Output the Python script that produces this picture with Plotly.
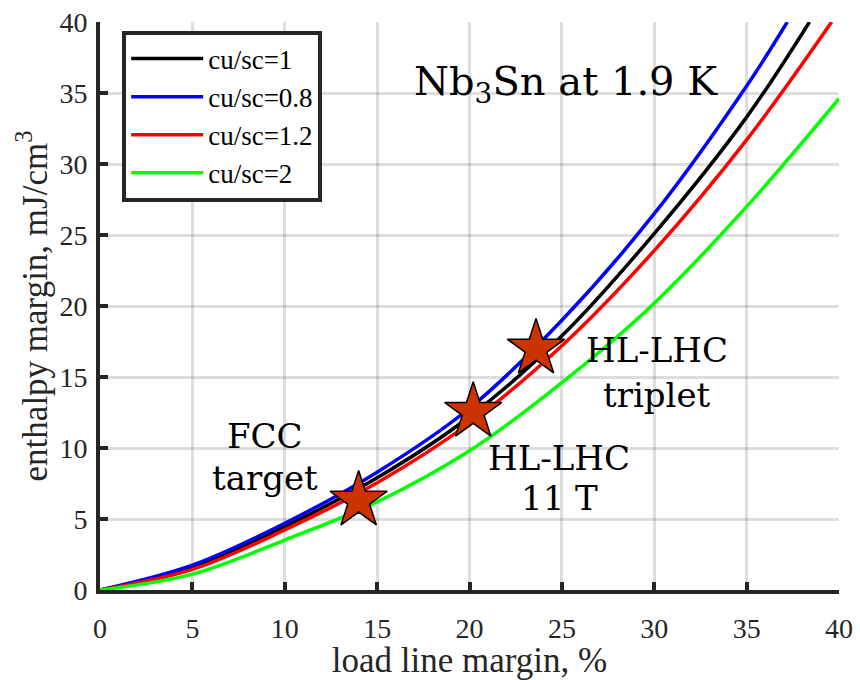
import plotly.graph_objects as go

# load line margin (%) sample points and enthalpy margin (mJ/cm^3) for each cu/sc ratio
x_cu1 = [0, 5, 10, 15, 20, 25, 30, 35, 38.4]
y_cu1 = [0, 1.58, 4.46, 7.9, 12.2, 17.9, 25.1, 33.3, 40]

x_cu08 = [0, 5, 10, 15, 20, 25, 30, 35, 37.2]
y_cu08 = [0, 1.75, 4.7, 8.3, 12.8, 19.0, 26.5, 35.5, 40]

x_cu12 = [0, 5, 10, 15, 20, 25, 30, 35, 39.6]
y_cu12 = [0, 1.45, 4.23, 7.55, 11.75, 17.2, 23.9, 31.7, 40]

x_cu2 = [0, 5, 10, 15, 20, 25, 30, 35, 40]
y_cu2 = [0, 1.12, 3.52, 6.2, 9.8, 14.6, 20.2, 27.0, 34.6]

# magnet operating points
star_x = [14.0, 20.2, 23.6]
star_y = [6.3, 12.55, 17.0]

ticks = [0, 5, 10, 15, 20, 25, 30, 35, 40]

series = [
    ("cu/sc=1", x_cu1, y_cu1, "#000000"),
    ("cu/sc=0.8", x_cu08, y_cu08, "#0000ff"),
    ("cu/sc=1.2", x_cu12, y_cu12, "#ff0000"),
    ("cu/sc=2", x_cu2, y_cu2, "#00ff00"),
]

SERIF = "Liberation Serif"
LABEL_FONT = "DejaVu Serif"
AX = "#262626"

fig = go.Figure()
for name, xs, ys, col in series:
    fig.add_trace(go.Scatter(
        x=xs, y=ys, mode="lines", name=name,
        line=dict(color=col, width=3.5, shape="spline", smoothing=1.0),
    ))

fig.add_trace(go.Scatter(
    x=star_x, y=star_y, mode="markers", showlegend=False,
    marker=dict(symbol="star", size=43, color="#cc3300",
                line=dict(color="#000000", width=1.5)),
))

ann_font = dict(family=LABEL_FONT, size=34, color="#000000")
fig.add_annotation(x=25.2, y=35.6, text="Nb<sub>3</sub>Sn at 1.9 K",
                   showarrow=False, font=dict(family=LABEL_FONT, size=40, color="#000000"))
fig.add_annotation(x=8.95, y=10.85, text="FCC", showarrow=False, font=ann_font)
fig.add_annotation(x=8.95, y=7.9, text="target", showarrow=False, font=ann_font)
fig.add_annotation(x=24.85, y=9.3, text="HL-LHC", showarrow=False, font=ann_font)
fig.add_annotation(x=24.85, y=6.5, text="11 T", showarrow=False, font=ann_font)
fig.add_annotation(x=30.15, y=16.9, text="HL-LHC", showarrow=False, font=ann_font)
fig.add_annotation(x=30.15, y=13.7, text="triplet", showarrow=False, font=ann_font)

axis_common = dict(
    range=[0, 40], tickvals=ticks, ticktext=[str(t) for t in ticks],
    showgrid=True, gridcolor="rgba(0,0,0,0.13)", gridwidth=3,
    zeroline=False, showline=True, linecolor=AX, linewidth=4, mirror=False,
    ticks="inside", ticklen=8, tickwidth=4, tickcolor=AX, automargin=False,
    tickfont=dict(family=SERIF, size=28, color=AX),
)

fig.update_layout(
    width=860, height=680,
    margin=dict(l=100, r=21, t=22, b=90),
    paper_bgcolor="white", plot_bgcolor="white",
    xaxis=dict(**axis_common, ticklabelstandoff=10,
               title=dict(text="load line margin, %",
                          font=dict(family=SERIF, size=35, color=AX), standoff=8)),
    yaxis=dict(**axis_common, ticklabelstandoff=3,
               title=dict(text="enthalpy margin, mJ/cm<sup>3</sup>",
                          font=dict(family=SERIF, size=35, color=AX), standoff=2)),
    legend=dict(x=0.03, y=0.985, xanchor="left", yanchor="top",
                bgcolor="white", bordercolor=AX, borderwidth=4,
                font=dict(family=SERIF, size=27, color="#000000"),
                itemwidth=72, tracegroupgap=0),
    showlegend=True,
)

fig.write_html("out.html")
